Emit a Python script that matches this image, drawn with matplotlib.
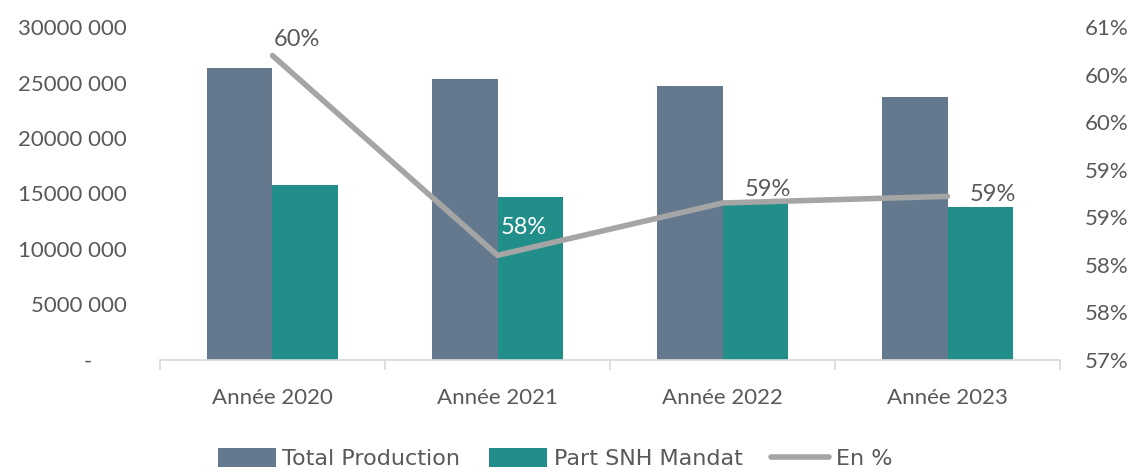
import numpy as np
import matplotlib.pyplot as plt
from matplotlib.ticker import FuncFormatter, FixedLocator

# data
years = ['Année 2020', 'Année 2021', 'Année 2022', 'Année 2023']
total_production = [26300000, 25300000, 24650000, 23650000]
part_snh = [15780000, 14700000, 14100000, 13800000]
en_pct = [60.2, 58.1, 58.65, 58.72]
pct_labels = ['60%', '58%', '59%', '59%']

c_total = '#64798E'
c_snh = '#218E89'
c_line = '#A5A5A5'
c_text = '#595959'

plt.rcParams['font.family'] = ['Lato', 'DejaVu Sans']

fig = plt.figure(figsize=(11.33, 4.68), dpi=100)
ax = fig.add_axes([0.1412, 0.2308, 0.7944, 0.7115])
ax2 = ax.twinx()

x = np.arange(len(years))
w = 0.29
b1 = ax.bar(x - w/2, total_production, w, color=c_total, label='Total Production')
b2 = ax.bar(x + w/2, part_snh, w, color=c_snh, label='Part SNH Mandat')

ax.set_xlim(-0.5, len(years) - 0.5)
ax.set_ylim(0, 30000000)
ax.set_yticks(np.arange(0, 30000001, 5000000))

def fmt_left(v, pos):
    if v == 0:
        return '-      '
    s = f'{int(v):,}'.replace(',', ' ')
    # excel style: only the last group separated
    head, tail = s[:-4].replace(' ', ''), s[-3:]
    return f'{head} {tail}'

ax.yaxis.set_major_formatter(FuncFormatter(fmt_left))
ax.tick_params(axis='y', length=0, pad=24, labelsize=16, labelcolor=c_text)

ax.set_xticks(x)
ax.set_xticklabels(years)
ax.tick_params(axis='x', which='major', length=0, pad=20, labelsize=16, labelcolor=c_text)
ax.xaxis.set_minor_locator(FixedLocator(np.arange(-0.5, len(years), 1.0)))
ax.tick_params(axis='x', which='minor', length=7, width=1.2, color='#D9D9D9', direction='out')

for s in ['top', 'left', 'right']:
    ax.spines[s].set_visible(False)
    ax2.spines[s].set_visible(False)
ax.spines['bottom'].set_color('#D9D9D9')
ax.spines['bottom'].set_linewidth(1.2)
ax2.spines['bottom'].set_visible(False)

# percent line on secondary axis
ln, = ax2.plot(x, en_pct, color=c_line, lw=4, solid_capstyle='round', label='En %')
ax2.set_ylim(57, 60.5)
ax2.set_yticks(np.arange(57, 60.51, 0.5))
ax2.yaxis.set_major_formatter(FuncFormatter(lambda v, p: f'{int(np.floor(v + 0.5))}%'))
ax2.tick_params(axis='y', length=0, pad=18, labelsize=16, labelcolor=c_text)

offsets = [(24, 16), (26, 28), (45, 14), (45, 2)]
label_colors = [c_text, 'white', c_text, c_text]
for xi, yi, t, off, col in zip(x, en_pct, pct_labels, offsets, label_colors):
    ax2.annotate(t, (xi, yi), xytext=off, textcoords='offset pixels',
                 ha='center', va='center', fontsize=17, color=col)

leg = fig.legend(handles=[b1, b2, ln], loc='lower center', ncol=3,
                 bbox_to_anchor=(0.49, -0.045), frameon=False,
                 handlelength=2.6, handleheight=0.9,
                 handletextpad=0.3, columnspacing=1.3,
                 prop={'family': ['DejaVu Sans'], 'size': 16})
for t in leg.get_texts():
    t.set_color(c_text)

fig.savefig('out.png', dpi=100)
